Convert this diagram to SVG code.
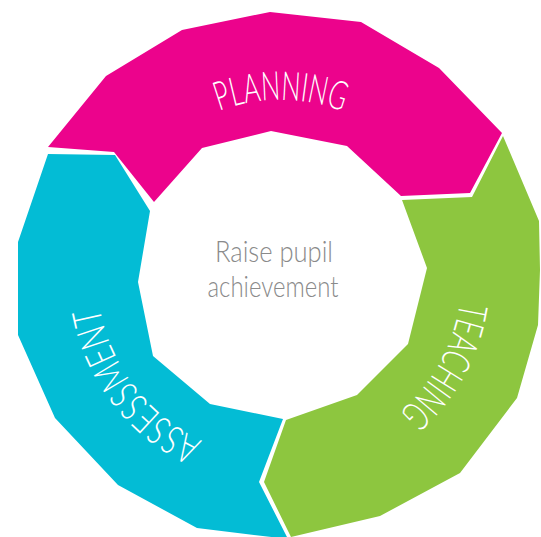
<svg xmlns="http://www.w3.org/2000/svg" width="541" height="537" viewBox="0 0 541 537">
  <style>
    .seg-label { font-family: Lato, "Open Sans", "DejaVu Sans", sans-serif; font-weight: 300; font-size: 40px; fill: #ffffff; }
    .centre { font-family: Lato, "Open Sans", "DejaVu Sans", sans-serif; font-weight: 300; font-size: 28.5px; fill: #8a8a8a; }
  </style>
  <defs>
    <!-- clockwise arcs around the ring centre (280,275) used as text baselines -->
    <path id="arc-planning" d="M 218.3 111.2 A 175 175 0 0 1 343.3 111.7"/>
    <path id="arc-teaching" d="M 460 302 A 182 182 0 0 1 399.4 412.4"/>
    <path id="arc-assessment" d="M 205.6 442.2 A 183 183 0 0 1 99.1 303.6"/>
  </defs>
  <rect width="541" height="537" fill="#ffffff"/>

  <g id="planning">
    <polygon fill="#EC038C" points="48,147 106,76 182,30 270,12 361,22 439,68 502,133 470,193 401,196 347,146 271,131 202,148 154,202 114,152"/>
    <text class="seg-label"><textPath href="#arc-planning" startOffset="50%" text-anchor="middle" textLength="126" lengthAdjust="spacingAndGlyphs">PLANNING</textPath></text>
  </g>

  <g id="teaching">
    <polygon fill="#8DC63F" points="503,136 539,221 540,270 538,325 517,398 460,473 380,516 291,537 264,482 286,420 357,395 408,344 427,268 402,200 472,197"/>
    <text class="seg-label"><textPath href="#arc-teaching" startOffset="50%" text-anchor="middle" textLength="128" lengthAdjust="spacingAndGlyphs">TEACHING</textPath></text>
  </g>

  <g id="assessment">
    <polygon fill="#03BCD5" points="48,154 115,155 150,211 138,282 153,356 210,404 283,419 259,482 288,539 197,528 118,485 55,418 18,335 18,242"/>
    <text class="seg-label"><textPath href="#arc-assessment" startOffset="50%" text-anchor="middle" textLength="175" lengthAdjust="spacingAndGlyphs">ASSESSMENT</textPath></text>
  </g>

  <g id="goal">
    <text class="centre" x="274" y="262" text-anchor="middle" textLength="118" lengthAdjust="spacingAndGlyphs">Raise pupil</text>
    <text class="centre" x="273" y="297" text-anchor="middle" textLength="131" lengthAdjust="spacingAndGlyphs">achievement</text>
  </g>

  <g id="connectors"/>
</svg>
